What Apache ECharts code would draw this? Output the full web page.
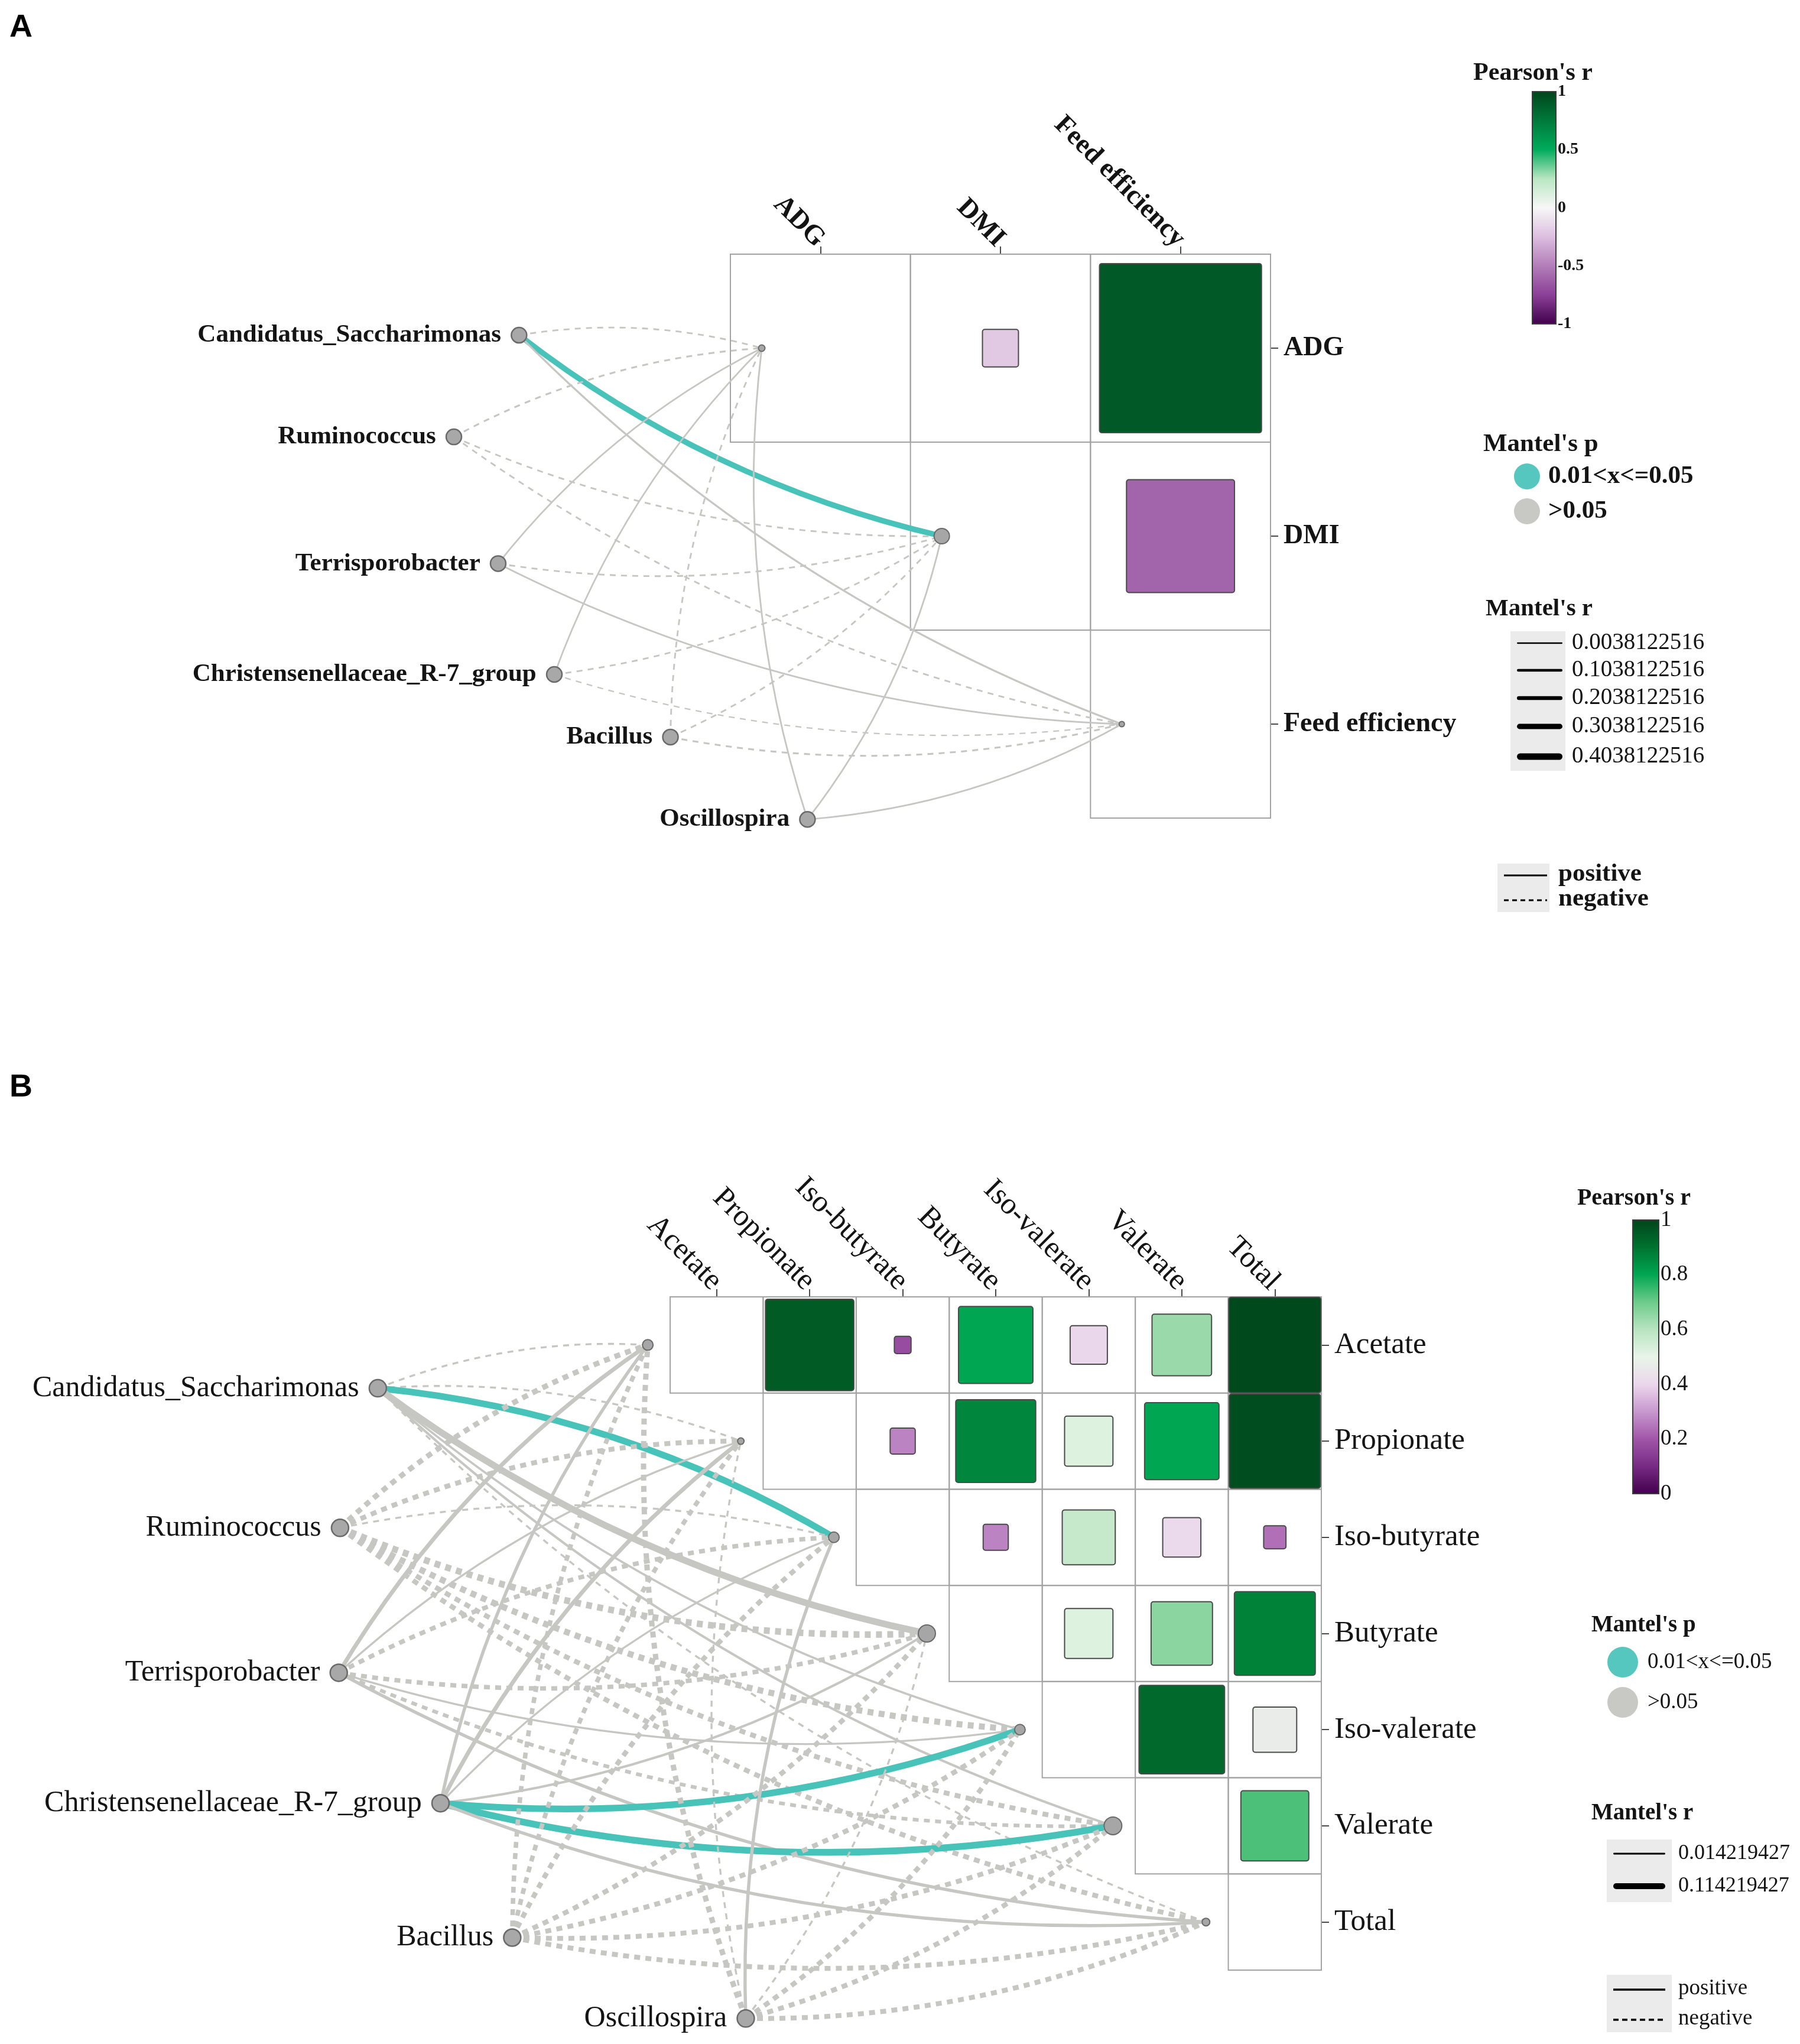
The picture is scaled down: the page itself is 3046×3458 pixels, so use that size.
<!DOCTYPE html>
<html>
<head>
<meta charset="utf-8">
<script src="https://cdn.jsdelivr.net/npm/echarts@6/dist/echarts.min.js"></script>
<style>html,body{margin:0;padding:0;background:#fff}#c{width:3046px;height:3458px}</style>
</head>
<body>
<div id="c"></div>
<script>
// ================= DATA =================
const SIG = '0.01<x<=0.05';
const NS = '>0.05';

// ---- Panel A ----
const speciesA = ['Candidatus_Saccharimonas', 'Ruminococcus', 'Terrisporobacter',
  'Christensenellaceae_R-7_group', 'Bacillus', 'Oscillospira'];
const envA = ['ADG', 'DMI', 'Feed efficiency'];
// Pearson's r between env variables (upper triangle): [row, column, r]
const pearsonA = [
  ['ADG', 'DMI', -0.2],
  ['ADG', 'Feed efficiency', 0.9],
  ['DMI', 'Feed efficiency', -0.6]
];
// Mantel's r (species x env)
const mantelRA = [
  [0.03, 0.33, 0.05],
  [0.04, 0.03, 0.03],
  [0.02, 0.03, 0.03],
  [0.02, 0.03, 0.004],
  [0.03, 0.03, 0.04],
  [0.03, 0.03, 0.02]
];
// Mantel's p class
const mantelPA = [
  [NS, SIG, NS],
  [NS, NS, NS],
  [NS, NS, NS],
  [NS, NS, NS],
  [NS, NS, NS],
  [NS, NS, NS]
];
// link sign: 1 positive, -1 negative
const linkSignA = [
  [-1, 1, 1],
  [-1, -1, -1],
  [1, -1, 1],
  [1, -1, -1],
  [-1, -1, -1],
  [1, 1, 1]
];
const colorbarTicksA = [-1, -0.5, 0, 0.5, 1];
const mantelRBreaksA = [0.0038122516, 0.1038122516, 0.2038122516, 0.3038122516, 0.4038122516];

// ---- Panel B ----
const speciesB = speciesA.slice();
const envB = ['Acetate', 'Propionate', 'Iso-butyrate', 'Butyrate', 'Iso-valerate', 'Valerate', 'Total'];
const pearsonB = [
  ['Acetate', 'Propionate', 0.95], ['Acetate', 'Iso-butyrate', 0.18], ['Acetate', 'Butyrate', 0.80],
  ['Acetate', 'Iso-valerate', 0.40], ['Acetate', 'Valerate', 0.64], ['Acetate', 'Total', 0.99],
  ['Propionate', 'Iso-butyrate', 0.27], ['Propionate', 'Butyrate', 0.86], ['Propionate', 'Iso-valerate', 0.52],
  ['Propionate', 'Valerate', 0.80], ['Propionate', 'Total', 0.98],
  ['Iso-butyrate', 'Butyrate', 0.27], ['Iso-butyrate', 'Iso-valerate', 0.57], ['Iso-butyrate', 'Valerate', 0.41],
  ['Iso-butyrate', 'Total', 0.24],
  ['Butyrate', 'Iso-valerate', 0.52], ['Butyrate', 'Valerate', 0.66], ['Butyrate', 'Total', 0.87],
  ['Iso-valerate', 'Valerate', 0.92], ['Iso-valerate', 'Total', 0.47],
  ['Valerate', 'Total', 0.73]
];
const mantelRB = [
  [0.02, 0.02, 0.13, 0.13, 0.025, 0.03, 0.02],
  [0.1, 0.09, 0.02, 0.13, 0.12, 0.09, 0.09],
  [0.07, 0.02, 0.08, 0.08, 0.02, 0.06, 0.05],
  [0.05, 0.07, 0.02, 0.03, 0.13, 0.135, 0.05],
  [0.08, 0.08, 0.09, 0.09, 0.09, 0.09, 0.09],
  [0.1, 0.02, 0.05, 0.02, 0.09, 0.09, 0.09]
];
const mantelPB = [
  [NS, NS, SIG, NS, NS, NS, NS],
  [NS, NS, NS, NS, NS, NS, NS],
  [NS, NS, NS, NS, NS, NS, NS],
  [NS, NS, NS, NS, SIG, SIG, NS],
  [NS, NS, NS, NS, NS, NS, NS],
  [NS, NS, NS, NS, NS, NS, NS]
];
const linkSignB = [
  [-1, -1, 1, 1, 1, 1, -1],
  [-1, -1, -1, -1, -1, -1, -1],
  [1, 1, -1, -1, 1, -1, 1],
  [1, 1, 1, 1, 1, 1, 1],
  [-1, -1, -1, -1, -1, -1, -1],
  [-1, -1, 1, -1, -1, -1, -1]
];
const colorbarTicksB = [0, 0.2, 0.4, 0.6, 0.8, 1];
const mantelRBreaksB = [0.014219427, 0.114219427];

// ================= STYLE / LAYOUT =================
const SERIF = '"Liberation Serif", "Times New Roman", serif';
const TXT = '#141414';
const COLORS_A = ['#40004B', '#8A3F96', '#B27DB8', '#DCBEDF', '#F7F7F7', '#B9E6C2', '#00AB5A', '#00793A', '#00441B'];
const COLORS_B = ['#40004B', '#762A83', '#A155A8', '#C797CE', '#EBD7EC', '#E8F5E8', '#B8E4C0', '#6CCB8A', '#00A651', '#00722F', '#00441B'];
const TEAL = '#47C3B9';
const GREY_LINK = '#C6C6C2';
const DASH = [10, 9];
const CURV = 0.11;

const layoutA = {
  grid: { left: 1236, top: 430, width: 914, height: 954 },
  nodePos: [[-1.174, 0.431], [-1.536, 0.972], [-1.29, 1.646], [-0.978, 2.236], [-0.333, 2.569], [0.428, 3.007]],
  envOffsetX: 0.174,
  envNodeSize: [11, 26, 9],
  nodeSize: 26,
  fontSize: 43, fontWeight: 'bold', axisFont: 46,
  width: r => 2.2 + 21.8 * r
};
const layoutB = {
  grid: { left: 1134, top: 2194, width: 1102, height: 1139 },
  nodePos: [[-3.142, 0.95], [-3.548, 2.402], [-3.562, 3.908], [-2.468, 5.265], [-1.697, 6.662], [0.813, 7.503]],
  envOffsetX: -0.24,
  envNodeSize: [18, 11, 18, 29, 18, 30, 13],
  nodeSize: 29,
  fontSize: 50, fontWeight: 'normal', axisFont: 51,
  width: r => 1.9 + 71 * r
};

// ================= BUILDERS =================
function cellData(env) {
  const out = [];
  for (let r = 0; r < env.length; r++) for (let c = r; c < env.length; c++) out.push([c, r]);
  return out;
}
function squareData(env, pearson) {
  return pearson.map(d => [env.indexOf(d[1]), env.indexOf(d[0]), d[2]]);
}
function linkData(env, lay, mr, mp, sg) {
  const out = [];
  const center = Math.floor(env.length / 2);
  for (let s = 0; s < mr.length; s++) {
    for (let e = 0; e < env.length; e++) {
      const p = lay.nodePos[s];
      out.push([p[0], p[1], e + lay.envOffsetX, e + 0.5, mr[s][e], mp[s][e] === SIG ? 1 : 0, sg[s][e], e < center ? 1 : -1]);
    }
  }
  return out;
}

function cellSeries(xi, yi, env) {
  return {
    type: 'custom', xAxisIndex: xi, yAxisIndex: yi, clip: false, silent: true, z: 1,
    data: cellData(env),
    renderItem: (params, api) => {
      const c = api.value(0), r = api.value(1);
      const p0 = api.coord([c, r]), p1 = api.coord([c + 1, r + 1]);
      return { type: 'rect', shape: { x: p0[0], y: p0[1], width: p1[0] - p0[0], height: p1[1] - p0[1] },
        style: { fill: 'none', stroke: '#A3A3A3', lineWidth: 2 } };
    }
  };
}
function squareSeries(xi, yi, env, pearson) {
  return {
    type: 'custom', xAxisIndex: xi, yAxisIndex: yi, clip: false, silent: true, z: 2,
    dimensions: ['col', 'row', 'r'],
    data: squareData(env, pearson),
    renderItem: (params, api) => {
      const c = api.value(0), r = api.value(1), v = Math.abs(api.value(2));
      const ctr = api.coord([c + 0.5, r + 0.5]);
      const sz = api.size([1, 1]);
      const w = sz[0] * v, h = sz[1] * v;
      return { type: 'rect', shape: { x: ctr[0] - w / 2, y: ctr[1] - h / 2, width: w, height: h, r: 4 },
        style: { fill: api.visual('color'), stroke: '#4A4A4A', lineWidth: 2 } };
    }
  };
}
function linkSeries(xi, yi, env, lay, mr, mp, sg) {
  return {
    type: 'custom', xAxisIndex: xi, yAxisIndex: yi, clip: false, silent: true, z: 3,
    data: linkData(env, lay, mr, mp, sg),
    renderItem: (params, api) => {
      const p1 = api.coord([api.value(0), api.value(1)]);
      const p2 = api.coord([api.value(2), api.value(3)]);
      const c = CURV * api.value(7);
      const dx = p2[0] - p1[0], dy = p2[1] - p1[1];
      const cpx = (p1[0] + p2[0]) / 2 + c * dy, cpy = (p1[1] + p2[1]) / 2 - c * dx;
      const sig = api.value(5) === 1;
      return { type: 'bezierCurve',
        shape: { x1: p1[0], y1: p1[1], x2: p2[0], y2: p2[1], cpx1: cpx, cpy1: cpy },
        style: { fill: 'none', stroke: sig ? TEAL : GREY_LINK, lineWidth: lay.width(api.value(4)),
          lineDash: api.value(6) < 0 ? DASH : null, lineCap: 'butt' } };
    }
  };
}
function envNodeSeries(xi, yi, env, lay) {
  return {
    type: 'scatter', xAxisIndex: xi, yAxisIndex: yi, clip: false, silent: true, z: 4,
    symbol: 'circle',
    data: env.map((e, i) => ({ name: e, value: [i + lay.envOffsetX, i + 0.5], symbolSize: lay.envNodeSize[i] })),
    itemStyle: { color: '#A6A6A6', borderColor: '#6A6A6A', borderWidth: 2, opacity: 1 }
  };
}
function speciesNodeSeries(xi, yi, species, lay) {
  return {
    type: 'scatter', xAxisIndex: xi, yAxisIndex: yi, clip: false, silent: true, z: 5,
    symbol: 'circle', symbolSize: lay.nodeSize,
    data: species.map((s, i) => ({ name: s, value: lay.nodePos[i] })),
    itemStyle: { color: '#A8A8A8', borderColor: '#6A6A6A', borderWidth: 2.5, opacity: 1 },
    label: { show: true, position: 'left', distance: 16, formatter: '{b}', color: TXT,
      fontFamily: SERIF, fontSize: lay.fontSize, fontWeight: lay.fontWeight }
  };
}
function colorbarSeries(xi, yi, ticks, colors) {
  const mn = ticks[0], mx = ticks[ticks.length - 1];
  return {
    type: 'custom', xAxisIndex: xi, yAxisIndex: yi, clip: false, silent: true, z: 2,
    data: [[0, mn, mx]],
    renderItem: (params, api) => {
      const p0 = api.coord([0, api.value(2)]), p1 = api.coord([1, api.value(1)]);
      return { type: 'rect', shape: { x: p0[0], y: p0[1], width: p1[0] - p0[0], height: p1[1] - p0[1] },
        style: { fill: { type: 'linear', x: 0, y: 1, x2: 0, y2: 0,
            colorStops: colors.map((c, i) => ({ offset: i / (colors.length - 1), color: c })) },
          stroke: '#3C3C3C', lineWidth: 2 } };
    }
  };
}

function catX(grid, env, lay) {
  return { type: 'category', gridIndex: grid, position: 'top', data: env,
    axisLine: { show: false }, splitLine: { show: false },
    axisTick: { show: true, alignWithLabel: true, length: 13, lineStyle: { color: '#4A4A4A', width: 2 } },
    axisLabel: { interval: 0, rotate: 45, align: 'right', verticalAlign: 'middle', margin: 19, color: TXT, fontFamily: SERIF,
      fontSize: lay.axisFont, fontWeight: lay.fontWeight } };
}
function catY(grid, env, lay) {
  return { type: 'category', gridIndex: grid, position: 'right', inverse: true, data: env,
    axisLine: { show: false }, splitLine: { show: false },
    axisTick: { show: true, alignWithLabel: true, length: 13, lineStyle: { color: '#4A4A4A', width: 2 } },
    axisLabel: { interval: 0, margin: 22, color: TXT, fontFamily: SERIF,
      fontSize: lay.axisFont, fontWeight: lay.fontWeight } };
}
function hiddenVal(grid, max, inverse) {
  return { type: 'value', gridIndex: grid, min: 0, max: max, inverse: !!inverse, show: false,
    splitLine: { show: false } };
}
function colorbarY(grid, ticks, fontSize, weight) {
  return { type: 'value', gridIndex: grid, position: 'right', min: ticks[0], max: ticks[ticks.length - 1],
    interval: ticks[1] - ticks[0], axisLine: { show: false }, splitLine: { show: false },
    axisTick: { show: true, length: 9, lineStyle: { color: '#333', width: 2 } },
    axisLabel: { margin: 3, color: TXT, fontFamily: SERIF, fontSize: fontSize, fontWeight: weight } };
}

// ================= LEGEND GRAPHICS =================
function txt(x, y, t, size, weight, align) {
  return { type: 'text', silent: true, z: 10,
    style: { x: x, y: y, text: t, fill: TXT, fontFamily: SERIF, fontSize: size, fontWeight: weight || 'normal',
      align: align || 'left', verticalAlign: 'middle', textAlign: align || 'left', textVerticalAlign: 'middle' } };
}
function circ(x, y, r, fill) {
  return { type: 'circle', silent: true, z: 10, shape: { cx: x, cy: y, r: r }, style: { fill: fill } };
}
function box(x, y, w, h) {
  return { type: 'rect', silent: true, z: 9, shape: { x: x, y: y, width: w, height: h }, style: { fill: '#EBEBEB' } };
}
function seg(x1, x2, y, w, dash, cap) {
  return { type: 'line', silent: true, z: 10, shape: { x1: x1, y1: y, x2: x2, y2: y },
    style: { stroke: '#000', lineWidth: w, lineDash: dash || null, lineCap: cap || 'butt' } };
}

const graphics = [];
graphics.push({ type: 'text', silent: true, style: { x: 16, y: 47, text: 'A', fill: '#000',
  fontFamily: '"Liberation Sans", Arial, sans-serif', fontSize: 54, fontWeight: 'bold', verticalAlign: 'middle', textVerticalAlign: 'middle' } });
graphics.push({ type: 'text', silent: true, style: { x: 16, y: 1840, text: 'B', fill: '#000',
  fontFamily: '"Liberation Sans", Arial, sans-serif', fontSize: 54, fontWeight: 'bold', verticalAlign: 'middle', textVerticalAlign: 'middle' } });

// Panel A legends
graphics.push(txt(2594, 124, "Pearson's r", 42, 'bold', 'center'));
graphics.push(txt(2510, 752, "Mantel's p", 43, 'bold'));
graphics.push(circ(2584, 806, 22, '#55C7BF'));
graphics.push(txt(2620, 806, SIG, 43, 'bold'));
graphics.push(circ(2584, 865, 22, '#C8C8C4'));
graphics.push(txt(2620, 865, NS, 43, 'bold'));
graphics.push(txt(2514, 1030, "Mantel's r", 41, 'bold'));
graphics.push(box(2556, 1068, 93, 236));
[1088, 1134, 1181, 1229, 1280].forEach((y, i) => {
  const w = layoutA.width(mantelRBreaksA[i]);
  graphics.push(seg(2567 + w / 2, 2644 - w / 2, y, w, null, 'round'));
  graphics.push(txt(2660, y, String(mantelRBreaksA[i]), 39, 'normal'));
});
graphics.push(box(2534, 1461, 88, 82));
graphics.push(seg(2545, 2618, 1481, 3));
graphics.push(seg(2545, 2618, 1523, 3, [8, 6]));
graphics.push(txt(2637, 1479, 'positive', 43, 'bold'));
graphics.push(txt(2637, 1521, 'negative', 43, 'bold'));

// Panel B legends
graphics.push(txt(2765, 2028, "Pearson's r", 40, 'bold', 'center'));
graphics.push(txt(2693, 2750, "Mantel's p", 39, 'bold'));
graphics.push(circ(2746, 2812, 26, '#55C7BF'));
graphics.push(txt(2788, 2812, SIG, 37, 'normal'));
graphics.push(circ(2746, 2880, 26, '#C8C8C4'));
graphics.push(txt(2788, 2880, NS, 37, 'normal'));
graphics.push(txt(2693, 3068, "Mantel's r", 39, 'bold'));
graphics.push(box(2719, 3112, 110, 106));
[3136, 3191].forEach((y, i) => {
  const w = layoutB.width(mantelRBreaksB[i]);
  graphics.push(seg(2730 + w / 2, 2818 - w / 2, y, w, null, 'round'));
  graphics.push(txt(2840, y, String(mantelRBreaksB[i]), 36, 'normal'));
});
graphics.push(box(2719, 3341, 110, 97));
graphics.push(seg(2730, 2818, 3366, 3.5));
graphics.push(seg(2730, 2818, 3417, 3.5, [9, 6]));
graphics.push(txt(2840, 3364, 'positive', 37, 'normal'));
graphics.push(txt(2840, 3415, 'negative', 37, 'normal'));

// ================= CHART =================
const chart = echarts.init(document.getElementById('c'), null, { renderer: 'canvas' });
const option = {
  backgroundColor: '#ffffff',
  animation: false,
  grid: [
    layoutA.grid,
    layoutB.grid,
    { left: 2593, top: 155, width: 40, height: 393 },
    { left: 2763, top: 2064, width: 44, height: 463 }
  ],
  xAxis: [
    hiddenVal(0, envA.length), catX(0, envA, layoutA),
    hiddenVal(1, envB.length), catX(1, envB, layoutB),
    hiddenVal(2, 1), hiddenVal(3, 1)
  ],
  yAxis: [
    hiddenVal(0, envA.length, true), catY(0, envA, layoutA),
    hiddenVal(1, envB.length, true), catY(1, envB, layoutB),
    colorbarY(2, colorbarTicksA, 28, 'bold'), colorbarY(3, colorbarTicksB, 37, 'normal')
  ],
  visualMap: [
    { type: 'continuous', show: false, seriesIndex: 1, dimension: 2, min: -1, max: 1, inRange: { color: COLORS_A } },
    { type: 'continuous', show: false, seriesIndex: 6, dimension: 2, min: 0, max: 1, inRange: { color: COLORS_B } }
  ],
  series: [
    cellSeries(0, 0, envA),
    squareSeries(0, 0, envA, pearsonA),
    linkSeries(0, 0, envA, layoutA, mantelRA, mantelPA, linkSignA),
    envNodeSeries(0, 0, envA, layoutA),
    speciesNodeSeries(0, 0, speciesA, layoutA),
    cellSeries(2, 2, envB),
    squareSeries(2, 2, envB, pearsonB),
    linkSeries(2, 2, envB, layoutB, mantelRB, mantelPB, linkSignB),
    envNodeSeries(2, 2, envB, layoutB),
    speciesNodeSeries(2, 2, speciesB, layoutB),
    colorbarSeries(4, 4, colorbarTicksA, COLORS_A),
    colorbarSeries(5, 5, colorbarTicksB, COLORS_B)
  ],
  graphic: graphics
};
chart.setOption(option);
</script>
</body>
</html>
